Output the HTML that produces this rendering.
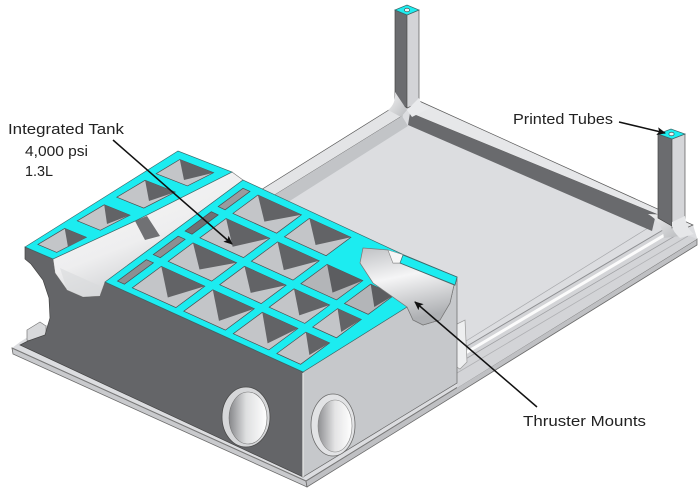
<!DOCTYPE html>
<html><head><meta charset="utf-8">
<style>html,body{margin:0;padding:0;background:#fff;}svg{display:block}</style>
</head>
<body>
<svg width="700" height="492" viewBox="0 0 700 492" xmlns="http://www.w3.org/2000/svg">
<defs>
  <linearGradient id="trough" x1="0" y1="0" x2="0.25" y2="1">
    <stop offset="0" stop-color="#bfc1c4"/>
    <stop offset="0.45" stop-color="#f5f5f6"/>
    <stop offset="1" stop-color="#aeb0b3"/>
  </linearGradient>
  <linearGradient id="groove" x1="0" y1="0" x2="0.6" y2="1">
    <stop offset="0" stop-color="#f8f8f8"/>
    <stop offset="0.6" stop-color="#eeeeef"/>
    <stop offset="1" stop-color="#c4c6c9"/>
  </linearGradient>
  <linearGradient id="holeL" x1="0" y1="0" x2="1" y2="0">
    <stop offset="0" stop-color="#86878a"/>
    <stop offset="0.45" stop-color="#dedfe0"/>
    <stop offset="1" stop-color="#ffffff"/>
  </linearGradient>
  <linearGradient id="holeR" x1="0" y1="0" x2="1" y2="0">
    <stop offset="0" stop-color="#8e8f92"/>
    <stop offset="0.5" stop-color="#e4e4e5"/>
    <stop offset="1" stop-color="#ffffff"/>
  </linearGradient>
  <linearGradient id="fil" x1="0" y1="0" x2="1" y2="1">
    <stop offset="0" stop-color="#f2f2f3"/>
    <stop offset="1" stop-color="#b9bbbe"/>
  </linearGradient>
  <marker id="ah" markerWidth="9" markerHeight="8" refX="8" refY="4" orient="auto" markerUnits="userSpaceOnUse">
    <path d="M0,0 L9,4 L0,8 L2,4 z" fill="#111"/>
  </marker>
</defs>

<!-- plate / floor -->
<polygon points="240,203 392,108 420,103 693,225 697,238 306,481 12,348 20,342" fill="#dcdde0"/>
<polygon points="12,348 306,481 307,487 13,354" fill="#c9cacd" stroke="#6b6b6b" stroke-width="0.8"/>
<polygon points="306,481 697,239 697,245 307,487" fill="#bfc0c3" stroke="#6b6b6b" stroke-width="0.8"/>
<polyline points="12,348 306,481 697,239" fill="none" stroke="#7a7a7a" stroke-width="1"/>

<!-- front-right lip -->
<polygon points="457,352 668,227 697,239 457,388" fill="#d3d4d7"/>
<line x1="457" y1="352" x2="668" y2="227" stroke="#8e8f92" stroke-width="1"/>
<line x1="457" y1="358" x2="673" y2="230" stroke="#fbfbfb" stroke-width="3"/>
<line x1="457" y1="364" x2="680" y2="233" stroke="#9fa0a3" stroke-width="0.8"/>
<line x1="457" y1="373" x2="688" y2="236" stroke="#b0b1b4" stroke-width="0.8"/>
<line x1="466" y1="341" x2="648" y2="228" stroke="#a9aaad" stroke-width="0.7"/>

<!-- back-right rim -->
<polygon points="417,100 693,225 684,229 656,214 410,113" fill="#e6e7e9" stroke="#5a5a5a" stroke-width="0.7"/>
<polygon points="410,113 656,214 652,231 408,125" fill="#696a6d"/>
<path d="M648,214 Q662,222 664,238 L680,236 Q676,222 672,215 Z" fill="url(#fil)"/>

<!-- back-left rim -->
<polygon points="240,203 392,108 402,116 252,209" fill="#e3e4e6" stroke="#5a5a5a" stroke-width="0.7"/>
<polygon points="252,209 402,116 408,126 266,216" fill="#c2c4c7"/>

<!-- left tube -->
<polygon points="395,10 407,15 407,108 395,100" fill="#6b6c6f" stroke="#444" stroke-width="0.7"/>
<polygon points="407,15 419,10 419,103 407,108" fill="#d3d4d7" stroke="#555" stroke-width="0.7"/>
<path d="M395,92 Q396,104 388,110 L401,117 L407,110 Z" fill="url(#fil)"/>
<path d="M407,110 L419,98 Q421,106 430,108 L412,117 Z" fill="#e9eaec"/>
<polygon points="395,10 407,5 419,10 407,15" fill="#1ceef0" stroke="#3b6a6b" stroke-width="0.7"/>
<ellipse cx="407" cy="10" rx="2.6" ry="1.8" fill="#e8f8f8" stroke="#333" stroke-width="0.6"/>

<!-- right tube -->
<polygon points="658,134 672,139 672,226 658,218" fill="#6b6c6f" stroke="#444" stroke-width="0.7"/>
<polygon points="672,139 685,134 685,222 672,228" fill="#d5d6d9" stroke="#555" stroke-width="0.7"/>
<path d="M672,222 L685,216 Q686,228 694,234 L680,238 Q673,232 672,226 Z" fill="#e6e7e9"/>
<polygon points="658,134 671,129 685,134 672,139" fill="#1ceef0" stroke="#3b6a6b" stroke-width="0.7"/>
<ellipse cx="671.5" cy="134" rx="2.6" ry="1.8" fill="#e8f8f8" stroke="#333" stroke-width="0.6"/>

<!-- lip end near block -->
<polygon points="455,325 465,320 467,362 460,369 455,366" fill="#eeeff0" stroke="#999" stroke-width="0.7"/>

<!-- rim tab at left -->
<polygon points="27,330 40,322 46,326 46,338 33,343 27,340" fill="#d8d9db" stroke="#777" stroke-width="0.7"/>

<!-- block left face -->
<polygon points="25,247 53,259 55,273 67,290 83,297 100,296 105,282 303,372 303,477 20,345 28,341 45,335 50,318 49,298 43,280 31,264 25,259" fill="#646568" stroke="#444" stroke-width="0.7"/>
<!-- block right face -->
<polygon points="303,372 407,307 413,320 423,325 440,320 450,303 454,285 457,277 457,383 303,477" fill="#c6c8cb" stroke="#666" stroke-width="0.7"/>

<!-- groove (white cylinder) -->
<polygon points="53,259 135,221 232,172 243,180 105,282 100,296 83,297 67,290 55,273" fill="url(#groove)" stroke="#777" stroke-width="0.6"/>
<polygon points="135,221 147,216 160,236 145,240" fill="#707174"/>
<polygon points="60,268 100,286 100,296 83,297 67,290" fill="#d9dadc" opacity="0.6"/>

<!-- left section top -->
<polygon points="25,247 178,151 232,172 135,221 53,259" fill="#1cecf0" stroke="#3b6a6b" stroke-width="0.7"/>
<!-- right section top -->
<polygon points="105,282 243,180 404,255 457,277 455,285 407,307 303,372" fill="#1cecf0" stroke="#3b6a6b" stroke-width="0.7"/>

<!-- left section cells -->
<g stroke="#4c4e50" stroke-width="0.7">
<polygon points="37.9,244.4 56.7,252.4 86.3,237.3 64.7,228.4" fill="#c3c5c8"/>
<polygon points="64.7,228.4 86.3,237.3 68,247" fill="#626366" stroke="none"/>
<polygon points="77.3,220.8 100.3,230.3 129.9,215.2 104.2,204.8" fill="#c3c5c8"/>
<polygon points="104.2,204.8 129.9,215.2 107,224" fill="#626366" stroke="none"/>
<polygon points="116.8,197.2 143.8,208.1 175.2,192.1 145.1,180.3" fill="#c3c5c8"/>
<polygon points="145.1,180.3 175.2,192.1 149,201" fill="#626366" stroke="none"/>
<polygon points="156.2,173.7 187.4,185.9 213.6,172.7 179.8,159.5" fill="#c3c5c8"/>
<polygon points="179.8,159.5 213.6,172.7 184,180" fill="#626366" stroke="none"/>
</g>

<!-- right section cells -->
<g stroke="#4c4e50" stroke-width="0.7">
<polygon points="117.5,281.1 124.4,284.2 153.4,262.8 146.4,259.7" fill="#8d8f92"/>
<polygon points="153.3,254.6 160.3,257.7 185.1,239.3 178.2,236.2" fill="#8d8f92"/>
<polygon points="185.1,231.1 192.0,234.2 218.2,214.9 211.3,211.7" fill="#6f7073"/>
<polygon points="218.2,206.6 225.1,209.8 250.0,191.4 243.0,188.3" fill="#9a9b9e"/>

<polygon points="132.3,287.8 175.9,307.6 204.8,286.2 161.3,266.4" fill="#c3c5c8"/>
<polygon points="161.3,266.4 204.8,286.2 167.8,297.5" fill="#626366" stroke="none"/>
<polygon points="183.8,311.2 225.4,330.1 254.3,308.7 212.8,289.8" fill="#c3c5c8"/>
<polygon points="212.8,289.8 254.3,308.7 219.0,320.9" fill="#626366" stroke="none"/>
<polygon points="233.3,333.7 268.9,349.9 297.9,328.5 262.3,312.3" fill="#c3c5c8"/>
<polygon points="262.3,312.3 297.9,328.5 267.6,343.4" fill="#626366" stroke="none"/>
<polygon points="276.8,353.5 300.6,364.3 329.6,342.9 305.8,332.1" fill="#c3c5c8"/>
<polygon points="305.8,332.1 329.6,342.9 309.4,355" fill="#626366" stroke="none"/>

<polygon points="168.2,261.3 211.7,281.1 236.6,262.7 193.0,242.9" fill="#c3c5c8"/>
<polygon points="193.0,242.9 236.6,262.7 199.5,269.5" fill="#626366" stroke="none"/>
<polygon points="219.7,284.7 261.2,303.6 286.1,285.2 244.5,266.3" fill="#c3c5c8"/>
<polygon points="244.5,266.3 286.1,285.2 250.7,292.9" fill="#626366" stroke="none"/>
<polygon points="269.2,307.2 304.8,323.4 329.6,305.0 294.0,288.8" fill="#c3c5c8"/>
<polygon points="294.0,288.8 329.6,305.0 299.3,315.4" fill="#626366" stroke="none"/>
<polygon points="312.7,327.0 336.5,337.8 361.3,319.4 337.6,308.6" fill="#c3c5c8"/>
<polygon points="337.6,308.6 361.3,319.4 341.2,332" fill="#626366" stroke="none"/>

<polygon points="199.9,237.8 243.5,257.6 269.7,238.3 226.1,218.5" fill="#c3c5c8"/>
<polygon points="226.1,218.5 269.7,238.3 232.6,246.7" fill="#626366" stroke="none"/>
<polygon points="251.4,261.2 293.0,280.1 319.2,260.8 277.6,241.9" fill="#c3c5c8"/>
<polygon points="277.6,241.9 319.2,260.8 283.8,270.1" fill="#626366" stroke="none"/>
<polygon points="300.9,283.7 336.5,299.9 362.8,280.6 327.1,264.4" fill="#b3b5b8"/>
<polygon points="327.1,264.4 362.8,280.6 332.5,292.6" fill="#5c5d60" stroke="none"/>
<polygon points="344.5,303.5 368.2,314.3 394.4,295.0 370.7,284.2" fill="#b3b5b8"/>
<polygon points="370.7,284.2 394.4,295.0 374.3,307" fill="#5c5d60" stroke="none"/>

<polygon points="233.0,213.4 276.6,233.2 301.4,214.8 257.9,195.0" fill="#c3c5c8"/>
<polygon points="257.9,195.0 301.4,214.8 264.4,221.6" fill="#626366" stroke="none"/>
<polygon points="284.5,236.8 326.1,255.7 350.9,237.3 309.4,218.4" fill="#c3c5c8"/>
<polygon points="309.4,218.4 350.9,237.3 315.6,245.0" fill="#626366" stroke="none"/>
</g>

<!-- trough (thruster mount) -->
<polygon points="363,248 388,250 393,263 400,263 454,285 450,303 440,320 423,325 413,320 407,307 373,283 360,263" fill="url(#trough)" stroke="#777" stroke-width="0.7"/>
<polygon points="388,250 393,263 400,263 404,255" fill="#f6f6f6" stroke="#888" stroke-width="0.5"/>
<polygon points="403,255 457,277 455,285 400,263" fill="#1cecf0" stroke="#3b6a6b" stroke-width="0.7"/>

<!-- holes -->
<ellipse cx="246" cy="417" rx="24" ry="30" fill="#d6d7d9" stroke="#4a4a4a" stroke-width="0.8"/>
<ellipse cx="248" cy="418" rx="19" ry="26" fill="url(#holeL)" stroke="#777" stroke-width="0.6"/>
<ellipse cx="333" cy="425" rx="22" ry="31" fill="#e2e3e5" stroke="#6a6a6a" stroke-width="0.8"/>
<ellipse cx="335" cy="426" rx="17" ry="26" fill="url(#holeR)" stroke="#888" stroke-width="0.6"/>

<!-- front edge highlight -->
<line x1="303" y1="373" x2="303" y2="477" stroke="#e3e3e3" stroke-width="1.3"/>

<!-- annotations -->
<g font-family="'Liberation Sans', Arial, sans-serif" fill="#222" font-size="15">
  <text x="8" y="134" textLength="116" lengthAdjust="spacingAndGlyphs">Integrated Tank</text>
  <text x="25" y="156" textLength="63" lengthAdjust="spacingAndGlyphs">4,000 psi</text>
  <text x="25" y="176" textLength="28" lengthAdjust="spacingAndGlyphs">1.3L</text>
  <text x="513" y="124" textLength="100" lengthAdjust="spacingAndGlyphs">Printed Tubes</text>
  <text x="523" y="426" textLength="123" lengthAdjust="spacingAndGlyphs">Thruster Mounts</text>
</g>
<g stroke="#111" stroke-width="1.5" fill="none">
  <line x1="113" y1="140" x2="232" y2="244" marker-end="url(#ah)"/>
  <line x1="619" y1="122" x2="665" y2="133" marker-end="url(#ah)"/>
  <line x1="537" y1="407" x2="415" y2="302" marker-end="url(#ah)"/>
</g>
</svg>
</body></html>
